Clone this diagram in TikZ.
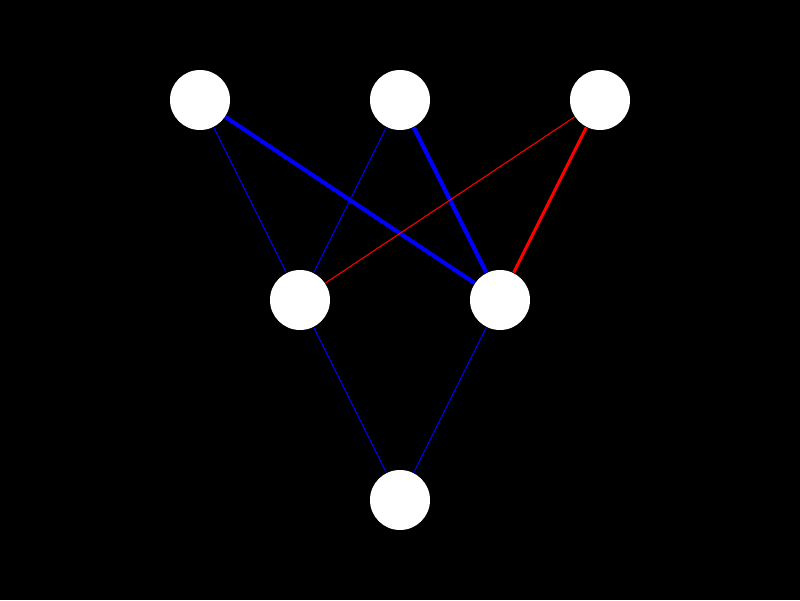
\documentclass[tikz,border=0pt]{standalone}
\usepackage{tikz}
\usetikzlibrary{positioning}
\definecolor{NetBlue}{RGB}{0,0,255}
\definecolor{NetRed}{RGB}{255,0,0}

\begin{document}
\begin{tikzpicture}[
  unit/.style={circle,fill=white,draw=none,minimum size=0.6cm,inner sep=0pt},
  weak/.style={draw=NetBlue,line width=0.3pt},
  strong/.style={draw=NetBlue,line width=1.15pt},
  weakneg/.style={draw=NetRed,line width=0.3pt},
  strongneg/.style={draw=NetRed,line width=0.85pt}
]
\fill[black] (0,0) rectangle (8,6);
\useasboundingbox (0,0) rectangle (8,6);
\node[unit] (in1) at (2,5) {};
\node[unit] (in2) at (4,5) {};
\node[unit] (in3) at (6,5) {};
\node[unit] (hid1) at (3,3) {};
\node[unit] (hid2) at (5,3) {};
\node[unit] (out) at (4,1) {};
\draw[weak] (in1) -- (hid1);
\draw[strong] (in1) -- (hid2);
\draw[weak] (in2) -- (hid1);
\draw[strong] (in2) -- (hid2);
\draw[weakneg] (in3) -- (hid1);
\draw[strongneg] (in3) -- (hid2);
\draw[weak] (hid1) -- (out);
\draw[weak] (hid2) -- (out);
\end{tikzpicture}
\end{document}
